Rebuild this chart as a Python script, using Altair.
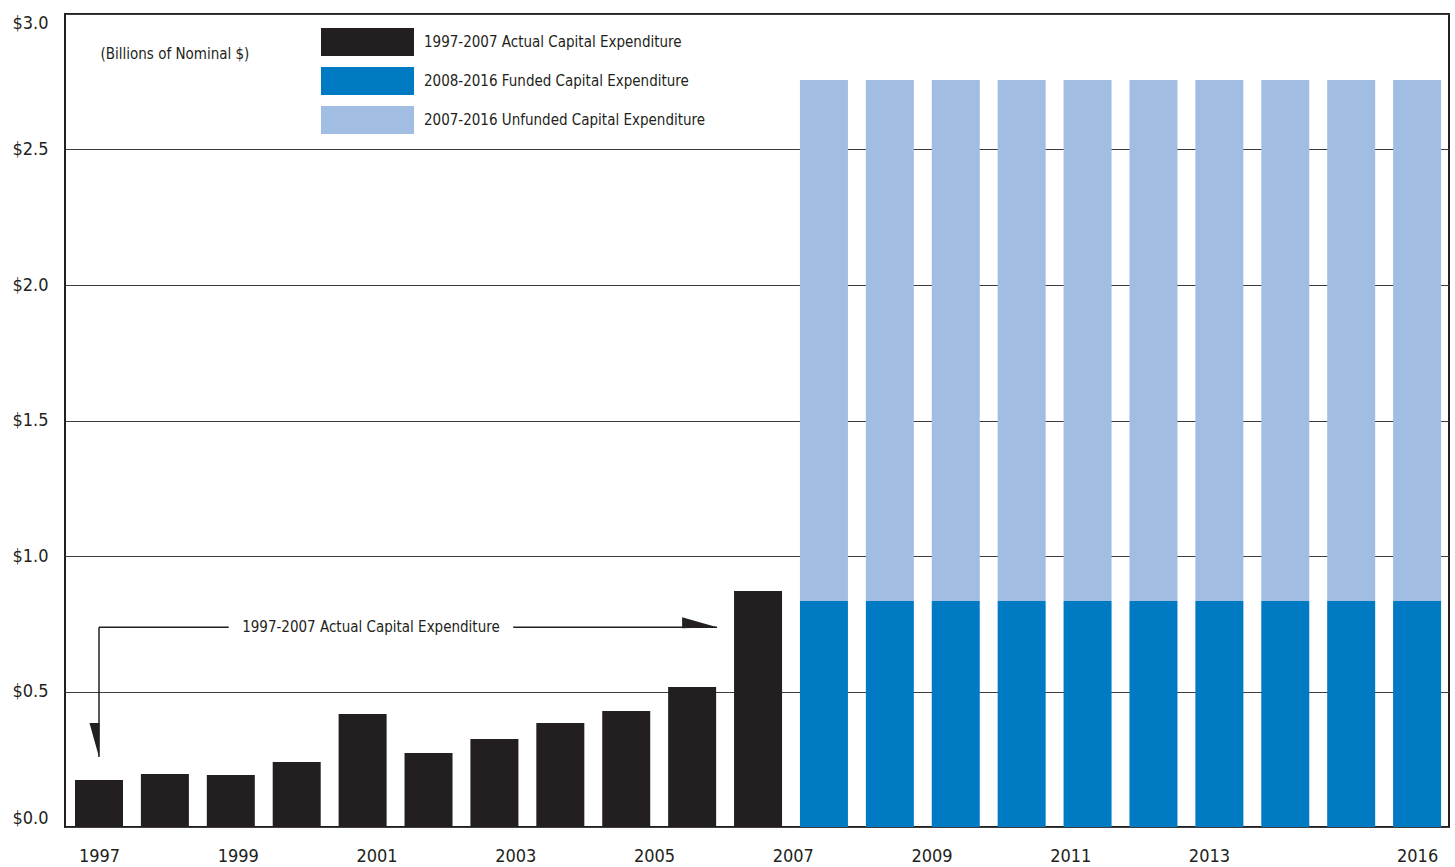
import altair as alt
import numpy as np
import pandas as pd

# ---- data (billions of nominal dollars) ----
actual_years = list(range(1997, 2008))
actual_values = [0.173, 0.196, 0.192, 0.240, 0.417, 0.273, 0.325, 0.384, 0.428, 0.517, 0.871]

plan_years = list(range(2007, 2017))
funded_values = [0.834] * 10
unfunded_values = [1.922] * 10

series_names = [
    "1997-2007 Actual Capital Expenditure",
    "2008-2016 Funded Capital Expenditure",
    "2007-2016 Unfunded Capital Expenditure",
]
series_colors = ["#231f20", "#007bc3", "#a1bee2"]

tick_years = [1997, 1999, 2001, 2003, 2005, 2007, 2009, 2011, 2013, 2016]
y_ticks = [0.0, 0.5, 1.0, 1.5, 2.0, 2.5, 3.0]

annotation_text = "1997-2007 Actual Capital Expenditure"

FONT = "DejaVu Sans Condensed, Liberation Sans Narrow, sans-serif"
INK = "#231f20"

# 21 bars (2007 appears twice: actual and plan) spread evenly over 1997-2016
n_bars = len(actual_years) + len(plan_years)
slots = np.linspace(actual_years[0], plan_years[-1], n_bars)

rows = []
for i, v in enumerate(actual_values):
    rows.append({"slot": slots[i], "year": actual_years[i], "series": series_names[0], "value": v, "ord": 0})
for j, (f, u) in enumerate(zip(funded_values, unfunded_values)):
    s = slots[len(actual_years) + j]
    rows.append({"slot": s, "year": plan_years[j], "series": series_names[1], "value": f, "ord": 0})
    rows.append({"slot": s, "year": plan_years[j], "series": series_names[2], "value": u, "ord": 1})
bars_df = pd.DataFrame(rows)

x_scale = alt.Scale(domain=[slots[0] - 0.49, slots[-1] + 0.46], nice=False, zero=False, padding=0)
y_scale = alt.Scale(domain=[0, 3], nice=False, padding=0)

bars = alt.Chart(bars_df).mark_bar(size=48).encode(
    x=alt.X(
        "slot:Q",
        scale=x_scale,
        axis=alt.Axis(
            values=tick_years, format="d", ticks=False, domain=False, grid=False,
            labelFlush=False, labelPadding=20, labelFontSize=18, labelFont=FONT,
            labelColor=INK, title=None,
        ),
    ),
    y=alt.Y(
        "value:Q",
        stack="zero",
        scale=y_scale,
        axis=alt.Axis(
            values=y_ticks, labelExpr="'$' + format(datum.value, '.1f')",
            ticks=False, domain=False, grid=True, gridColor="#3c3c3c", gridWidth=1.2,
            labelFlush=True, labelFlushOffset=0,
            labelPadding=17, labelFontSize=18, labelFont=FONT, labelColor=INK,
            title="(Billions of Nominal $)", titleAngle=0, titleX=35, titleY=39,
            titleAlign="left", titleBaseline="middle", titleFontSize=15,
            titleFontWeight="normal", titleFont=FONT, titleColor=INK,
        ),
    ),
    color=alt.Color(
        "series:N",
        scale=alt.Scale(domain=series_names, range=series_colors),
        legend=alt.Legend(
            title=None, orient="none", legendX=256, legendY=14, padding=0,
            symbolType="M-1,-1H5.643V1H-1Z", symbolSize=784, symbolStrokeWidth=0,
            symbolOpacity=1, labelOffset=75, rowPadding=11, labelFontSize=15,
            labelFont=FONT, labelColor=INK, labelLimit=500,
        ),
    ),
    order=alt.Order("ord:Q"),
)

# ---- callout: bracket from the first actual bar to the last one ----
level = 0.737
first_x = slots[0]
tip_x = slots[len(actual_years) - 1] - 0.59
tip_y = 0.258
gap_left, gap_right = 1998.87, 2002.97

seg_df = pd.DataFrame({
    "x": [first_x, gap_right, first_x],
    "x2": [gap_left, tip_x, first_x],
    "y": [level, level, level],
    "y2": [level, level, tip_y],
})
segments = alt.Chart(seg_df).mark_rule(color=INK, strokeWidth=1.5).encode(
    x=alt.X("x:Q", scale=x_scale), x2="x2:Q",
    y=alt.Y("y:Q", scale=y_scale), y2="y2:Q",
)

right_head = alt.Chart(pd.DataFrame({"x": [tip_x], "y": [level]})).mark_point(
    shape="M0,0L-2,-0.571L-2,0.057Z", size=1225, filled=True, color=INK, opacity=1, strokeWidth=0
).encode(x=alt.X("x:Q", scale=x_scale), y=alt.Y("y:Q", scale=y_scale))

down_head = alt.Chart(pd.DataFrame({"x": [first_x], "y": [tip_y]})).mark_point(
    shape="M0,0L-0.543,-1.943L0.029,-1.943Z", size=1225, filled=True, color=INK, opacity=1, strokeWidth=0
).encode(x=alt.X("x:Q", scale=x_scale), y=alt.Y("y:Q", scale=y_scale))

label = alt.Chart(pd.DataFrame({"x": [(gap_left + gap_right) / 2], "y": [level], "t": [annotation_text]})).mark_text(
    font=FONT, fontSize=15, color=INK, align="center", baseline="middle"
).encode(x=alt.X("x:Q", scale=x_scale), y=alt.Y("y:Q", scale=y_scale), text="t:N")

chart = (
    alt.layer(bars, segments, right_head, down_head, label)
    .properties(
        width=1384, height=813,
        padding={"left": 65, "top": 14, "right": 6, "bottom": 40},
        autosize=alt.AutoSizeParams(type="none"),
        background="white",
    )
    .configure_view(stroke=INK, strokeWidth=2)
)

chart.save("out.html", embed_options={"renderer": "svg", "actions": False})
